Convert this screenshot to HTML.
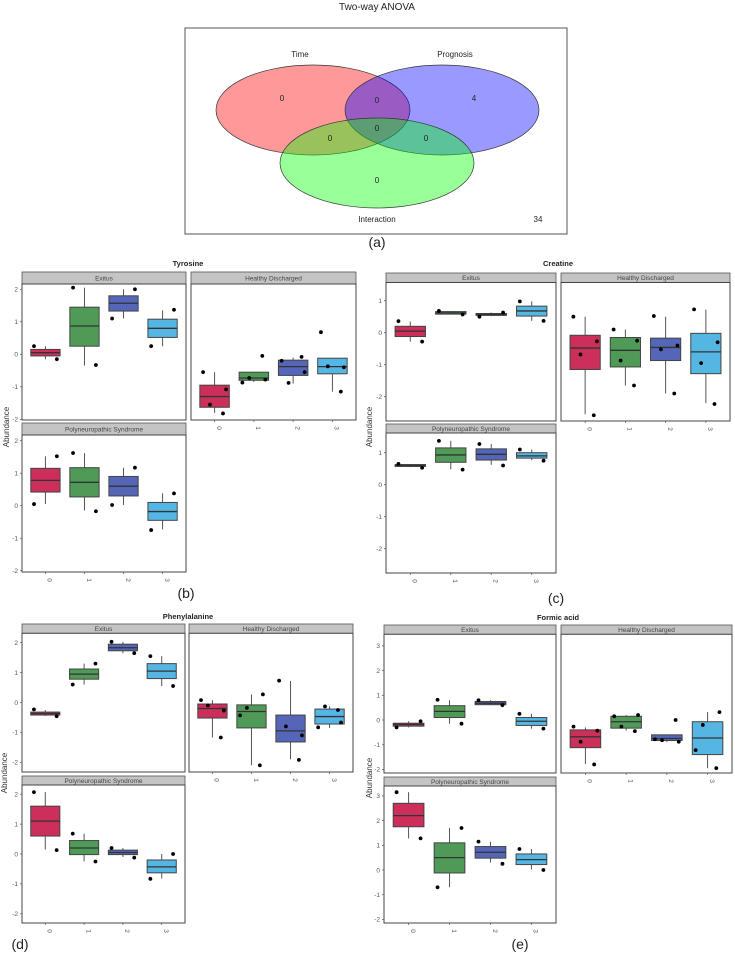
<!DOCTYPE html>
<html><head><meta charset="utf-8">
<style>
html,body{margin:0;padding:0;background:#fff;}
svg{display:block;font-family:"Liberation Sans",sans-serif;}
</style></head>
<body>
<svg id="fig" width="735" height="959" viewBox="0 0 735 959" xmlns="http://www.w3.org/2000/svg">
  <g>
    <text x="377" y="10" text-anchor="middle" font-size="10" fill="#222">Two-way ANOVA</text>
    <rect x="185" y="28" width="382" height="206" fill="#fff" stroke="#555" stroke-width="1"/>
    <ellipse cx="313" cy="110" rx="97" ry="45" fill="#ff0000" fill-opacity="0.4" stroke="#333" stroke-width="0.7"/>
    <ellipse cx="442" cy="110" rx="97" ry="45" fill="#0000ff" fill-opacity="0.4" stroke="#333" stroke-width="0.7"/>
    <ellipse cx="377" cy="163" rx="97" ry="45" fill="#00ff00" fill-opacity="0.4" stroke="#333" stroke-width="0.7"/>
    <g font-size="8" fill="#222" text-anchor="middle">
      <text x="300" y="57">Time</text>
      <text x="455" y="57">Prognosis</text>
      <text x="377" y="222">Interaction</text>
      <text x="538" y="222">34</text>
      <text x="282" y="101">0</text>
      <text x="377" y="103">0</text>
      <text x="474" y="101">4</text>
      <text x="377" y="131">0</text>
      <text x="330" y="141">0</text>
      <text x="426" y="141">0</text>
      <text x="377" y="183">0</text>
    </g>
    <text x="377" y="247" text-anchor="middle" font-size="14" fill="#222">(a)</text>
  </g>
  <g font-size="14" fill="#222" text-anchor="middle">
    <text x="186" y="598">(b)</text>
    <text x="556" y="603">(c)</text>
    <text x="20" y="949">(d)</text>
    <text x="520" y="949">(e)</text>
  </g>
</svg>
<script>
const categories = ["0","1","2","3"];
const facetNames = ["Exitus","Healthy Discharged","Polyneuropathic Syndrome"];

const tyrExitusBox = [[-0.15,-0.05,0.05,0.15,0.25],[-0.35,0.25,0.87,1.45,2.05],[1.1,1.33,1.57,1.8,2.0],[0.25,0.52,0.8,1.08,1.35]];
const tyrExitusPts = [[0.25,-0.15],[2.05,-0.33],[1.1,2.0],[0.25,1.37]];
const tyrHealthyBox = [[-1.8,-1.63,-1.3,-0.95,-0.55],[-0.85,-0.8,-0.73,-0.55,-0.55],[-0.9,-0.65,-0.38,-0.18,-0.1],[-1.15,-0.6,-0.38,-0.12,-0.12]];
const tyrHealthyPts = [[-0.55,-1.08,-1.55,-1.82],[-0.87,-0.78,-0.73,-0.05],[-0.2,-0.55,-0.88,-0.08],[0.68,-0.4,-0.37,-1.15]];
const tyrPolyBox = [[0.05,0.42,0.78,1.15,1.52],[-0.15,0.27,0.72,1.17,1.62],[0.02,0.3,0.6,0.9,1.17],[-0.73,-0.45,-0.18,0.1,0.38]];
const tyrPolyPts = [[0.05,1.52],[1.62,-0.17],[0.02,1.17],[-0.75,0.38]];
const tyrTicks = [-2,-1,0,1,2];

const creExitusBox = [[-0.28,-0.12,0.05,0.2,0.35],[0.58,0.58,0.62,0.66,0.68],[0.52,0.54,0.57,0.6,0.63],[0.37,0.52,0.68,0.83,0.98]];
const creExitusPts = [[0.36,-0.28],[0.68,0.57],[0.5,0.63],[0.98,0.37]];
const creHealthyBox = [[-2.55,-1.15,-0.48,-0.08,0.5],[-1.65,-1.07,-0.55,-0.15,0.1],[-1.9,-0.87,-0.46,-0.17,0.5],[-2.2,-1.28,-0.6,-0.02,0.72]];
const creHealthyPts = [[0.5,-0.27,-0.68,-2.58],[0.1,-0.25,-0.87,-1.65],[0.52,-0.4,-0.52,-1.9],[0.73,-0.3,-0.95,-2.23]];
const crePolyBox = [[0.55,0.57,0.6,0.63,0.65],[0.48,0.7,0.93,1.15,1.37],[0.62,0.77,0.95,1.12,1.27],[0.77,0.83,0.9,1.0,1.1]];
const crePolyPts = [[0.65,0.53],[1.37,0.47],[1.27,0.6],[1.1,0.75]];
const creTicks = [-2,-1,0,1];

const pheExitusBox = [[-0.45,-0.42,-0.37,-0.32,-0.25],[0.6,0.78,0.95,1.12,1.3],[1.65,1.73,1.83,1.95,2.03],[0.55,0.8,1.05,1.3,1.55]];
const pheExitusPts = [[-0.23,-0.46],[0.6,1.3],[2.03,1.65],[1.55,0.55]];
const pheHealthyBox = [[-1.17,-0.52,-0.2,-0.05,0.08],[-2.1,-0.85,-0.3,-0.08,0.27],[-1.9,-1.32,-0.95,-0.42,0.72],[-0.85,-0.72,-0.47,-0.22,-0.13]];
const pheHealthyPts = [[0.08,-0.27,-0.1,-1.17],[-0.43,0.27,-0.18,-2.1],[0.73,-1.1,-0.8,-1.92],[-0.83,-0.67,-0.13,-0.25]];
const phePolyBox = [[0.15,0.6,1.1,1.6,2.07],[-0.25,-0.02,0.2,0.45,0.68],[-0.1,-0.02,0.05,0.13,0.2],[-0.82,-0.63,-0.43,-0.2,0.0]];
const phePolyPts = [[2.07,0.13],[0.68,-0.25],[0.2,-0.12],[-0.83,0.0]];
const pheTicks = [-2,-1,0,1,2];

const forExitusBox = [[-0.3,-0.25,-0.18,-0.13,-0.05],[-0.15,0.1,0.35,0.58,0.8],[0.6,0.62,0.68,0.75,0.8],[-0.35,-0.22,-0.05,0.1,0.25]];
const forExitusPts = [[-0.3,-0.05],[0.82,-0.15],[0.8,0.6],[0.25,-0.35]];
const forHealthyBox = [[-1.78,-1.12,-0.68,-0.4,-0.3],[-0.43,-0.33,-0.07,0.15,0.2],[-0.9,-0.83,-0.75,-0.6,-0.6],[-1.95,-1.4,-0.73,-0.07,0.32]];
const forHealthyPts = [[-0.27,-0.43,-0.88,-1.8],[0.15,0.2,-0.27,-0.45],[-0.78,-0.88,-0.82,0.0],[-1.22,0.32,-0.2,-1.95]];
const forPolyBox = [[1.28,1.75,2.2,2.7,3.15],[-0.7,-0.12,0.5,1.1,1.7],[0.3,0.48,0.72,0.95,1.15],[0.02,0.22,0.42,0.65,0.85]];
const forPolyPts = [[3.15,1.28],[-0.7,1.7],[1.15,0.25],[0.85,0.0]];
const forTicks = [-2,-1,0,1,2,3];

const colors = ["#cc2f5a","#4f9a57","#5566b8","#55b6e4"];
const jit = [-0.3,0.3,-0.12,0.22];
const NS = "http://www.w3.org/2000/svg";
const svg = document.getElementById("fig");

function mk(tag, attrs, parent){
  const e = document.createElementNS(NS, tag);
  for (const k in attrs) e.setAttribute(k, attrs[k]);
  parent.appendChild(e);
  return e;
}

function facet(g, name, fx1, fx2, stripTop, top, bottom, zero, unit, ticks, box, pts, showX, showY){
  const fg = mk("g", {}, g);
  
  
  const strip = mk("rect", {x:fx1, y:stripTop, width:fx2-fx1, height:top-stripTop, fill:"#c4c4c4", stroke:"#555", "stroke-width":0.8}, fg);
  
  
  const st = mk("text", {x:(fx1+fx2)/2, y:(stripTop+top)/2+2.3, "text-anchor":"middle", "font-size":6.5, fill:"#444"}, fg);
  st.textContent = name;
  
  
  const frame = mk("rect", {x:fx1, y:top, width:fx2-fx1, height:bottom-top, fill:"#fff", stroke:"#444", "stroke-width":1}, fg);
  
  
  const yS = v => zero - v*unit;
  const xS = i => fx1 + (fx2-fx1)*(i+0.6)/4.2;
  const bw = (fx2-fx1)*0.75/4.2;
  if (showY) ticks.forEach(t=>{
    mk("line",{x1:fx1-2,x2:fx1,y1:yS(t),y2:yS(t),stroke:"#555","stroke-width":0.7},fg);
    const tl = mk("text",{x:fx1-4,y:yS(t)+2.3,"text-anchor":"end","font-size":6.5,fill:"#555"},fg);
    tl.textContent = t;
    
    
  });
  box.forEach((b,i)=>{
    const cx = xS(i);
    const wl = mk("line",{x1:cx,x2:cx,y1:yS(b[0]),y2:yS(b[4]),stroke:"#555","stroke-width":1},fg);
    
    
    const r = mk("rect",{x:cx-bw/2,y:yS(b[3]),width:bw,height:Math.max(1,yS(b[1])-yS(b[3])),fill:colors[i],stroke:"#444","stroke-width":1},fg);
    
    
    const m = mk("line",{x1:cx-bw/2,x2:cx+bw/2,y1:yS(b[2]),y2:yS(b[2]),stroke:"#333","stroke-width":1.3},fg);
    
    
    pts[i].forEach((v,j)=>{
      const p = mk("circle",{cx:cx+jit[j%4]*bw*1.3,cy:yS(v),r:1.9,fill:"#000"},fg);
      
      
    });
    if (showX){
      mk("line",{x1:cx,x2:cx,y1:bottom,y2:bottom+2,stroke:"#555","stroke-width":0.7},fg);
      const xl = mk("text",{x:0,y:0,"text-anchor":"middle","font-size":6.5,fill:"#555",transform:`translate(${cx+2.3},${bottom+8}) rotate(90)`},fg);
      xl.textContent = categories[i];
      
      
    }
  });
}

function chart(id, title, tx, ty, L, R, ticks, data, abX, abY){
  const g = mk("g", {}, svg);
  
  
  const t = mk("text",{x:tx,y:ty,"text-anchor":"middle","font-size":7.5,"font-weight":"bold",fill:"#222"},g);
  t.textContent = title;
  
  
  facet(g, facetNames[0], L.x1, L.x2, L.s1, L.t1, L.b1, L.z1, L.u, ticks, data[0], data[1], false, true);
  facet(g, facetNames[1], R.x1, R.x2, L.s1, L.t1, L.b1, L.z1, L.u, ticks, data[2], data[3], true, false);
  facet(g, facetNames[2], L.x1, L.x2, L.s2, L.t2, L.b2, L.z2, L.u, ticks, data[4], data[5], true, true);
  const a = mk("text",{x:0,y:0,"text-anchor":"middle","font-size":8,fill:"#333",transform:`translate(${abX},${abY}) rotate(-90)`},g);
  a.textContent = "Abundance";
  
  
}

chart("chart-tyrosine","Tyrosine",188,266,
  {x1:22,x2:186,s1:272,t1:284,b1:420,z1:354.3,s2:423,t2:435,b2:572,z2:505.7,u:32.5},
  {x1:191,x2:356}, tyrTicks,
  [tyrExitusBox,tyrExitusPts,tyrHealthyBox,tyrHealthyPts,tyrPolyBox,tyrPolyPts], 9, 427);
chart("chart-creatine","Creatine",558,266,
  {x1:386,x2:556,s1:273,t1:282.5,b1:421,z1:332.7,s2:424,t2:433,b2:573,z2:484.7,u:32},
  {x1:561,x2:730}, creTicks,
  [creExitusBox,creExitusPts,creHealthyBox,creHealthyPts,crePolyBox,crePolyPts], 372, 427);
chart("chart-phenylalanine","Phenylalanine",188,619,
  {x1:22,x2:185,s1:624,t1:633.3,b1:772,z1:702.5,s2:776,t2:785,b2:923,z2:854,u:29.9},
  {x1:189,x2:353}, pheTicks,
  [pheExitusBox,pheExitusPts,pheHealthyBox,pheHealthyPts,phePolyBox,phePolyPts], 7, 773);
chart("chart-formic-acid","Formic acid",558,620,
  {x1:384,x2:556,s1:625,t1:634.3,b1:773,z1:720,s2:777,t2:786,b2:923,z2:870,u:24.7},
  {x1:561,x2:732}, forTicks,
  [forExitusBox,forExitusPts,forHealthyBox,forHealthyPts,forPolyBox,forPolyPts], 372, 778);
</script>
</body></html>
